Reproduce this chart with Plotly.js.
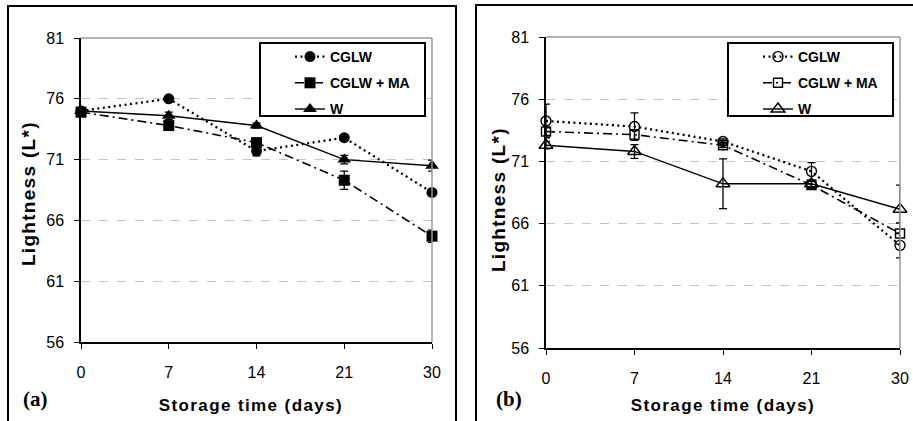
<!DOCTYPE html>
<html><head><meta charset="utf-8">
<script src="https://cdn.plot.ly/plotly-3.0.1.min.js"></script>
<style>
html,body{margin:0;padding:0;background:#fff;}
g.annotation[data-index="0"] text, g.annotation[data-index="1"] text{letter-spacing:1.4px;}
g.annotation[data-index="2"] text, g.annotation[data-index="3"] text{letter-spacing:1.3px;}
</style>
</head><body>
<div id="chart" style="width:913px;height:421px;"></div>
<script>
// ---- data ----
var days = ['0', '7', '14', '21', '30'];
var seriesNames = ['CGLW', 'CGLW + MA', 'W'];

// panel (a)
var aCGLW = [75.0, 76.0, 71.7, 72.8, 68.3];
var aCGLWErr = [0.15, 0.2, 0.4, 0.2, 0.2];
var aMA = [74.9, 73.8, 72.4, 69.3, 64.7];
var aMAErr = [0.2, 0.2, 0.3, 0.75, 0.5];
var aW = [75.0, 74.6, 73.8, 71.0, 70.5];
var aWErr = [0.2, 0.3, 0.2, 0.35, 0.45];

// panel (b)
var bCGLW = [74.25, 73.8, 72.6, 70.2, 64.25];
var bCGLWErr = [1.35, 1.1, 0.2, 0.7, 1.0];
var bMA = [73.4, 73.15, 72.3, 69.1, 65.2];
var bMAErr = [0.3, 0.4, 0.2, 0.3, 0.85];
var bW = [72.3, 71.8, 69.2, 69.2, 67.15];
var bWErr = [0.3, 0.55, 2.0, 0.3, 1.95];

var yTicks = [56, 61, 66, 71, 76, 81];

// ---- helpers ----
var W = 913, H = 421;
function px(x){ return x / W; }
function py(y){ return 1 - y / H; }
var FONT = 'Liberation Sans, Arial, sans-serif';

function errObj(arr){
  return {type:'data', array:arr, visible:true, color:'#000', thickness:1.3, width:4};
}
var styles = [
  {dash:'2px,3.5px', width:2.3},
  {dash:'9px,4px,2px,4px', width:1.6},
  {dash:'solid', width:1.4}
];

function makeTraces(vals, errs, symbols, sizes, xa, ya, leg, grp){
  return vals.map(function(v, i){
    var open = symbols[i].indexOf('open') >= 0;
    return {
      type:'scatter', mode:'lines+markers',
      x: days, y: v, name: seriesNames[i],
      xaxis: xa, yaxis: ya, legend: leg, legendgroup: grp + i,
      cliponaxis: false,
      line: {color:'#000', width: styles[i].width, dash: styles[i].dash},
      marker: {symbol: symbols[i], size: sizes[i], color:'#000',
               line: {color:'#000', width: open ? 1.4 : 0}},
      error_y: errObj(errs[i])
    };
  });
}

var traces = []
  .concat(makeTraces([aCGLW, aMA, aW], [aCGLWErr, aMAErr, aWErr],
                     ['circle', 'square', 'triangle-up'], [11, 11, 12], 'x', 'y', 'legend', 'a'))
  .concat(makeTraces([bCGLW, bMA, bW], [bCGLWErr, bMAErr, bWErr],
                     ['circle-open', 'square-open', 'triangle-up-open'], [10, 9, 12], 'x2', 'y2', 'legend2', 'b'));

function xAxis(dom, anchor){
  return {
    domain: dom, anchor: anchor, type:'category', range:[0, 4],
    showline:true, linecolor:'#000', linewidth:1.5,
    ticks:'outside', ticklen:5, tickwidth:1, tickcolor:'#000',
    tickfont:{family:FONT, size:16, color:'#000'},
    ticklabelstandoff: 10,
    showgrid:false, zeroline:false, fixedrange:true
  };
}
function yAxis(dom, anchor){
  return {
    domain: dom, anchor: anchor, range:[56, 81],
    tickvals: yTicks, ticktext: yTicks.map(String),
    showline:true, linecolor:'#000', linewidth:1.5,
    ticks:'outside', ticklen:5, tickwidth:1, tickcolor:'#000',
    tickfont:{family:FONT, size:16, color:'#000'},
    ticklabelstandoff: 7,
    showgrid:true, gridcolor:'#c4c4c4', gridwidth:1, griddash:'dash',
    zeroline:false, fixedrange:true
  };
}

// plot area pixel boxes
var A = {l:81, r:432, t:38, b:342};
var B = {l:546, r:900, t:37, b:348};

function pbox(x0, y0, x1, y1, fill){
  return {type:'rect', layer:'above', xref:'paper', yref:'paper',
    x0:px(x0), x1:px(x1), y0:py(y1), y1:py(y0),
    line:{color:'#000', width:2}, fillcolor: fill};
}
function pline(x0, y0, x1, y1, color){
  return {type:'line', layer:'above', xref:'paper', yref:'paper',
    x0:px(x0), x1:px(x1), y0:py(y0), y1:py(y1), line:{color:color, width:1.5}};
}

var shapes = [
  pline(A.l, A.t, A.r, A.t, '#9a9a9a'),
  pline(A.r, A.t, A.r, A.b, '#9a9a9a'),
  pline(B.l, B.t, B.r, B.t, '#9a9a9a'),
  pline(B.r, B.t, B.r, B.b, '#9a9a9a'),
  pbox(260, 43, 425, 116, '#fff'),
  pbox(728, 43, 893, 116, '#fff'),
  pbox(8, 6, 456, 440, 'rgba(0,0,0,0)'),
  pbox(476, 5, 930, 440, 'rgba(0,0,0,0)')
];

var titleFontX = {family:FONT, size:17, color:'#000', weight:'bold'};
var titleFontY = {family:FONT, size:19, color:'#000', weight:'bold'};
var serif = 'Liberation Serif, Times New Roman, serif';
var annotations = [
  {text:'Storage time (days)', xref:'paper', yref:'paper', x:px(251), y:py(405), showarrow:false, font:titleFontX, xanchor:'center', yanchor:'middle'},
  {text:'Storage time (days)', xref:'paper', yref:'paper', x:px(723), y:py(405), showarrow:false, font:titleFontX, xanchor:'center', yanchor:'middle'},
  {text:'Lightness (L*)', xref:'paper', yref:'paper', x:px(28), y:py(194), textangle:-90, showarrow:false, font:titleFontY, xanchor:'center', yanchor:'middle'},
  {text:'Lightness (L*)', xref:'paper', yref:'paper', x:px(498), y:py(199), textangle:-90, showarrow:false, font:titleFontY, xanchor:'center', yanchor:'middle'},
  {text:'(a)', xref:'paper', yref:'paper', x:px(35), y:py(399), showarrow:false, font:{family:serif, size:21, color:'#000', weight:'bold'}, xanchor:'center', yanchor:'middle'},
  {text:'(b)', xref:'paper', yref:'paper', x:px(509), y:py(399), showarrow:false, font:{family:serif, size:21, color:'#000', weight:'bold'}, xanchor:'center', yanchor:'middle'}
];

function legendCfg(x, y){
  return {x:x, y:y, xanchor:'left', yanchor:'top', orientation:'v',
    bgcolor:'rgba(0,0,0,0)', borderwidth:0,
    tracegroupgap:5,
    font:{family:FONT, size:14, color:'#000', weight:'bold'}};
}

var layout = {
  width: W, height: H,
  margin: {l:0, r:0, t:0, b:0},
  paper_bgcolor:'#fff', plot_bgcolor:'#fff',
  showlegend: true,
  xaxis: xAxis([px(A.l), px(A.r)], 'y'),
  yaxis: yAxis([py(A.b), py(A.t)], 'x'),
  xaxis2: xAxis([px(B.l), px(B.r)], 'y2'),
  yaxis2: yAxis([py(B.b), py(B.t)], 'x2'),
  legend: legendCfg(px(290), py(41)),
  legend2: legendCfg(px(758), py(41)),
  shapes: shapes,
  annotations: annotations
};

Plotly.newPlot('chart', traces, layout, {displayModeBar:false});
</script>
</body></html>
